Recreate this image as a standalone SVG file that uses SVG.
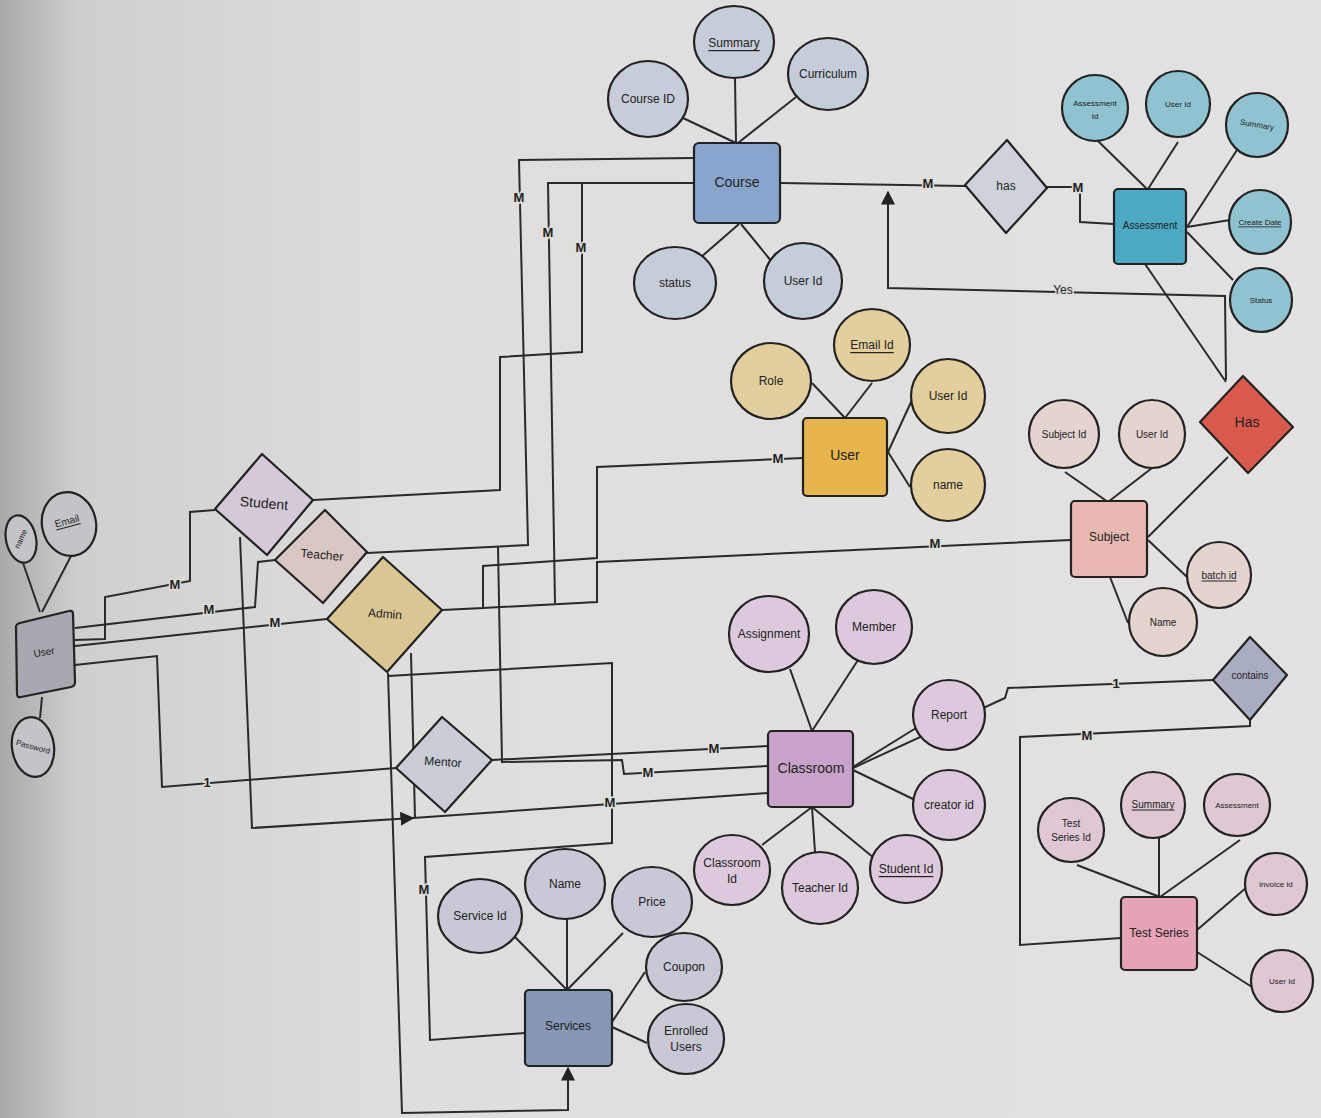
<svg xmlns="http://www.w3.org/2000/svg" width="1321" height="1118" viewBox="0 0 1321 1118">
<defs>
<linearGradient id="bg" x1="0" y1="0" x2="1" y2="0">
<stop offset="0" stop-color="#a9a9a9"/>
<stop offset="0.06" stop-color="#cfcfcf"/>
<stop offset="0.3" stop-color="#dededc"/>
<stop offset="1" stop-color="#e2e2e0"/>
</linearGradient>
<marker id="arr" viewBox="0 0 10 10" refX="9" refY="5" markerWidth="7" markerHeight="7" orient="auto-start-reverse">
<path d="M0,0 L10,5 L0,10 Z" fill="#222"/>
</marker>
<style>
.e{stroke:#222;stroke-width:2.2}
.a{stroke:#222;stroke-width:2.2}
.l{fill:none;stroke:#2a2a2a;stroke-width:2}
.t{font-family:"Liberation Sans",Arial,sans-serif;font-size:12px;fill:#222;text-anchor:middle;dominant-baseline:central}
.s{font-size:10px}
.xs{font-size:8px}
.big{font-size:14px}
.m{font-family:"Liberation Sans",Arial,sans-serif;font-size:13px;font-weight:bold;fill:#222;text-anchor:middle;dominant-baseline:central;stroke:#dededc;stroke-width:3;paint-order:stroke}
.u{text-decoration:underline}
.crs{fill:#c6ccd8}.ass{fill:#8fc3d0}.usr{fill:#e3cf9c}.sub{fill:#e4d4d0}.tst{fill:#dfc8d4}.cls{fill:#dccadc}.svc{fill:#c9c9d5}.lu{fill:#c4c4c8}
</style>
</defs>
<rect width="1321" height="1118" fill="url(#bg)"/>

<g id="connectors">
<!-- User (left) -> Student -->
<polyline class="l" points="75,640 105,639 105,597 190,581 190,512 215,510"/>
<!-- User -> Teacher -->
<polyline class="l" points="75,628 255,607 258,562 275,560"/>
<!-- User -> Admin -->
<polyline class="l" points="75,646 327,619"/>
<!-- User -> Mentor -->
<polyline class="l" points="75,665 157,656 162,787 396,768"/>
<!-- Student -> Course -->
<polyline class="l" points="313,500 500,490 500,357 582,352 582,183"/>
<!-- Teacher -> Course -->
<polyline class="l" points="694,158 519,160 528,545 367,553"/>
<!-- Course -> Admin -->
<polyline class="l" points="694,183 548,183 555,603"/>
<!-- Teacher -> Classroom -->
<polyline class="l" points="498,547 502,762 622,760 624,774 768,766"/>
<!-- Admin -> User (yellow) -->
<polyline class="l" points="442,610 483,608 483,566 597,558 597,467 803,458"/>
<!-- Admin -> Subject -->
<polyline class="l" points="483,608 597,602 597,562 1071,540"/>
<!-- Mentor -> Classroom -->
<polyline class="l" points="492,760 768,746"/>
<!-- Student -> Classroom -->
<polyline class="l" points="240,537 252,828 413,818" marker-end="url(#arr)"/>
<polyline class="l" points="413,818 768,793"/>
<!-- Admin vertical -->
<polyline class="l" points="411,653 415,818"/>
<!-- Admin -> Services (arrow) -->
<polyline class="l" points="388,673 402,1113 568,1110 568,1068" marker-end="url(#arr)"/>
<!-- Admin -> Services -->
<polyline class="l" points="388,676 612,663 612,843 425,857 430,1040 525,1033"/>
<!-- Classroom -> contains -->
<polyline class="l" points="853,768 1005,698 1008,688 1213,680"/>
<!-- contains -> Test Series -->
<polyline class="l" points="1250,720 1250,726 1020,737 1020,945 1121,938"/>
<!-- Course -> has -> Assessment -->
<polyline class="l" points="780,183 965,186"/>
<polyline class="l" points="1047,187 1080,187 1080,222 1114,224"/>
<!-- Yes -->
<polyline class="l" points="1226,380 1225,296 888,288 888,192" marker-end="url(#arr)"/>
<!-- Assessment -> Has -->
<line class="l" x1="1145" y1="264" x2="1226" y2="382"/>
<!-- Has -> Subject -->
<line class="l" x1="1228" y1="457" x2="1148" y2="537"/>

<!-- attribute lines -->
<g>
<line class="l" x1="23" y1="563" x2="40" y2="612"/>
<line class="l" x1="71" y1="556" x2="42" y2="612"/>
<line class="l" x1="40" y1="718" x2="42" y2="697"/>
<line class="l" x1="683" y1="118" x2="736" y2="143"/>
<line class="l" x1="735" y1="78" x2="736" y2="143"/>
<line class="l" x1="796" y1="97" x2="738" y2="143"/>
<line class="l" x1="700" y1="258" x2="739" y2="224"/>
<line class="l" x1="772" y1="262" x2="741" y2="224"/>
<line class="l" x1="1097" y1="140" x2="1147" y2="189"/>
<line class="l" x1="1178" y1="142" x2="1148" y2="189"/>
<line class="l" x1="1237" y1="150" x2="1187" y2="227"/>
<line class="l" x1="1230" y1="220" x2="1187" y2="227"/>
<line class="l" x1="1233" y1="280" x2="1187" y2="232"/>
<line class="l" x1="812" y1="383" x2="845" y2="418"/>
<line class="l" x1="872" y1="383" x2="845" y2="418"/>
<line class="l" x1="912" y1="400" x2="888" y2="452"/>
<line class="l" x1="910" y1="487" x2="888" y2="452"/>
<line class="l" x1="1065" y1="472" x2="1108" y2="502"/>
<line class="l" x1="1152" y1="468" x2="1108" y2="502"/>
<line class="l" x1="1148" y1="540" x2="1187" y2="577"/>
<line class="l" x1="1110" y1="577" x2="1128" y2="623"/>
<line class="l" x1="1077" y1="865" x2="1160" y2="897"/>
<line class="l" x1="1159" y1="838" x2="1159" y2="897"/>
<line class="l" x1="1240" y1="840" x2="1160" y2="897"/>
<line class="l" x1="1247" y1="887" x2="1197" y2="930"/>
<line class="l" x1="1252" y1="987" x2="1197" y2="952"/>
<line class="l" x1="790" y1="669" x2="812" y2="731"/>
<line class="l" x1="858" y1="660" x2="812" y2="731"/>
<line class="l" x1="916" y1="728" x2="853" y2="767"/>
<line class="l" x1="915" y1="800" x2="853" y2="770"/>
<line class="l" x1="762" y1="845" x2="812" y2="807"/>
<line class="l" x1="815" y1="852" x2="812" y2="807"/>
<line class="l" x1="874" y1="858" x2="812" y2="807"/>
<line class="l" x1="515" y1="937" x2="567" y2="990"/>
<line class="l" x1="567" y1="919" x2="567" y2="990"/>
<line class="l" x1="623" y1="933" x2="567" y2="990"/>
<line class="l" x1="645" y1="972" x2="612" y2="1022"/>
<line class="l" x1="647" y1="1043" x2="612" y2="1027"/>
</g>

<!-- cardinality labels -->
<text class="m" x="175" y="584">M</text>
<text class="m" x="209" y="609">M</text>
<text class="m" x="275" y="622">M</text>
<text class="m" x="207" y="782">1</text>
<text class="m" x="519" y="197">M</text>
<text class="m" x="548" y="232">M</text>
<text class="m" x="581" y="247">M</text>
<text class="m" x="778" y="458">M</text>
<text class="m" x="935" y="543">M</text>
<text class="m" x="714" y="748">M</text>
<text class="m" x="648" y="772">M</text>
<text class="m" x="610" y="802">M</text>
<text class="m" x="424" y="889">M</text>
<text class="m" x="928" y="183">M</text>
<text class="m" x="1078" y="187">M</text>
<text class="m" x="1116" y="683">1</text>
<text class="m" x="1087" y="735">M</text>
<text class="m" x="1063" y="290" style="font-size:12px;font-weight:normal">Yes</text>
</g>

<!-- User (left) -->
<g id="user-left">
<path d="M20,623 L69,611 Q73,610 73,614 L75,682 Q75,686 71,687 L21,697 Q17,698 17,694 L16,627 Q16,624 20,623 Z" fill="#a8a8b0" class="e"/>
<text class="t s" x="44" y="652" transform="rotate(-10 44 652)">User</text>
</g>
<g id="attr-user-name"><ellipse class="e lu" cx="21" cy="539" rx="15" ry="24" transform="rotate(-12 21 539)"/><text class="t xs" x="21" y="539" transform="rotate(-65 21 539)">name</text></g>
<g id="attr-user-email"><ellipse class="e lu" cx="69" cy="524" rx="27" ry="32" transform="rotate(-12 69 524)"/><text class="t s u" x="67" y="521" transform="rotate(-15 67 521)">Email</text></g>
<g id="attr-user-password"><ellipse class="e lu" cx="33" cy="747" rx="21" ry="30" transform="rotate(-8 33 747)"/><text class="t xs" x="33" y="747" transform="rotate(15 33 747)">Password</text></g>

<!-- Relationships -->
<g id="rel-student"><polygon class="e" points="262,454 313,500 267,555 215,509" fill="#d4c9d6" stroke-linejoin="round"/><text class="t big" x="264" y="503" transform="rotate(5 264 503)">Student</text></g>
<g id="rel-teacher"><polygon class="e" points="325,510 367,552 323,603 275,560" fill="#d8c7c3" stroke-linejoin="round"/><text class="t" x="322" y="555" transform="rotate(5 322 555)">Teacher</text></g>
<g id="rel-admin"><polygon class="e" points="383,557 442,610 387,672 327,619" fill="#d9c690" stroke-linejoin="round"/><text class="t" x="385" y="614" transform="rotate(4 385 614)">Admin</text></g>
<g id="rel-mentor"><polygon class="e" points="442,717 492,760 445,812 396,768" fill="#c9cdd6" stroke-linejoin="round"/><text class="t" x="443" y="762" transform="rotate(4 443 762)">Mentor</text></g>
<g id="rel-has"><polygon class="e" points="1007,140 1047,188 1006,233 965,185" fill="#cfd2da" stroke-linejoin="round"/><text class="t" x="1006" y="186">has</text></g>
<g id="rel-has2"><polygon class="e" points="1243,376 1293,427 1248,473 1200,422" fill="#d95a4b" stroke-linejoin="round"/><text class="t big" x="1247" y="422">Has</text></g>
<g id="rel-contains"><polygon class="e" points="1250,637 1287,675 1250,720 1213,680" fill="#a9adc2" stroke-linejoin="round"/><text class="t s" x="1250" y="675">contains</text></g>

<!-- Course -->
<g id="course"><rect class="e" x="694" y="143" width="86" height="80" rx="5" fill="#8aa5cc"/><text class="t big" x="737" y="182">Course</text></g>
<g id="course-summary"><ellipse class="e crs" cx="734" cy="42" rx="40" ry="36"/><text class="t u" x="734" y="43">Summary</text></g>
<g id="course-curriculum"><ellipse class="e crs" cx="828" cy="74" rx="40" ry="36"/><text class="t" x="828" y="74">Curriculum</text></g>
<g id="course-id"><ellipse class="e crs" cx="648" cy="99" rx="40" ry="38"/><text class="t" x="648" y="99">Course ID</text></g>
<g id="course-status"><ellipse class="e crs" cx="675" cy="283" rx="41" ry="36"/><text class="t" x="675" y="283">status</text></g>
<g id="course-userid"><ellipse class="e crs" cx="803" cy="281" rx="39" ry="38"/><text class="t" x="803" y="281">User Id</text></g>

<!-- Assessment -->
<g id="assessment"><rect class="e" x="1114" y="189" width="72" height="75" rx="4" fill="#4ba9c3"/><text class="t s" x="1150" y="225">Assessment</text></g>
<g id="asmt-id"><ellipse class="e ass" cx="1095" cy="108" rx="33" ry="33"/><text class="t xs" x="1095" y="103">Assessment</text><text class="t xs" x="1095" y="116">Id</text></g>
<g id="asmt-userid"><ellipse class="e ass" cx="1178" cy="104" rx="32" ry="33"/><text class="t xs" x="1178" y="104">User Id</text></g>
<g id="asmt-summary"><ellipse class="e ass" cx="1257" cy="125" rx="31" ry="32"/><text class="t xs" x="1257" y="125" transform="rotate(10 1257 125)">Summary</text></g>
<g id="asmt-createdate"><ellipse class="e ass" cx="1260" cy="222" rx="31" ry="32"/><text class="t xs u" x="1260" y="222">Create Date</text></g>
<g id="asmt-status"><ellipse class="e ass" cx="1261" cy="300" rx="31" ry="32"/><text class="t xs" x="1261" y="300">Status</text></g>

<!-- User (yellow) -->
<g id="user"><rect class="e" x="803" y="418" width="84" height="78" rx="4" fill="#e6b54c"/><text class="t big" x="845" y="455">User</text></g>
<g id="user-role"><ellipse class="e usr" cx="771" cy="381" rx="40" ry="38"/><text class="t" x="771" y="381">Role</text></g>
<g id="user-emailid"><ellipse class="e usr" cx="872" cy="345" rx="38" ry="36"/><text class="t u" x="872" y="345">Email Id</text></g>
<g id="user-userid"><ellipse class="e usr" cx="948" cy="396" rx="37" ry="37"/><text class="t" x="948" y="396">User Id</text></g>
<g id="user-name"><ellipse class="e usr" cx="948" cy="485" rx="37" ry="36"/><text class="t" x="948" y="485">name</text></g>

<!-- Subject -->
<g id="subject"><rect class="e" x="1071" y="501" width="76" height="76" rx="4" fill="#e8b9b1"/><text class="t" x="1109" y="537">Subject</text></g>
<g id="subject-id"><ellipse class="e sub" cx="1064" cy="434" rx="35" ry="34"/><text class="t s" x="1064" y="434">Subject Id</text></g>
<g id="subject-userid"><ellipse class="e sub" cx="1152" cy="434" rx="33" ry="34"/><text class="t s" x="1152" y="434">User Id</text></g>
<g id="subject-batchid"><ellipse class="e sub" cx="1219" cy="575" rx="32" ry="33"/><text class="t s u" x="1219" y="575">batch id</text></g>
<g id="subject-name"><ellipse class="e sub" cx="1163" cy="622" rx="34" ry="34"/><text class="t s" x="1163" y="622">Name</text></g>

<!-- Classroom -->
<g id="classroom"><rect class="e" x="768" y="731" width="85" height="76" rx="4" fill="#c8a2c8"/><text class="t big" x="811" y="768">Classroom</text></g>
<g id="cls-assignment"><ellipse class="e cls" cx="769" cy="634" rx="40" ry="38"/><text class="t" x="769" y="634">Assignment</text></g>
<g id="cls-member"><ellipse class="e cls" cx="874" cy="627" rx="38" ry="37"/><text class="t" x="874" y="627">Member</text></g>
<g id="cls-report"><ellipse class="e cls" cx="949" cy="715" rx="36" ry="35"/><text class="t" x="949" y="715">Report</text></g>
<g id="cls-creatorid"><ellipse class="e cls" cx="949" cy="805" rx="36" ry="35"/><text class="t" x="949" y="805">creator id</text></g>
<g id="cls-studentid"><ellipse class="e cls" cx="906" cy="869" rx="36" ry="34"/><text class="t u" x="906" y="869">Student Id</text></g>
<g id="cls-teacherid"><ellipse class="e cls" cx="820" cy="888" rx="38" ry="36"/><text class="t" x="820" y="888">Teacher Id</text></g>
<g id="cls-classroomid"><ellipse class="e cls" cx="732" cy="870" rx="38" ry="35"/><text class="t" x="732" y="863">Classroom</text><text class="t" x="732" y="879">Id</text></g>

<!-- Services -->
<g id="services"><rect class="e" x="525" y="990" width="87" height="76" rx="4" fill="#8797b6"/><text class="t" x="568" y="1026">Services</text></g>
<g id="svc-id"><ellipse class="e svc" cx="480" cy="916" rx="42" ry="37"/><text class="t" x="480" y="916">Service Id</text></g>
<g id="svc-name"><ellipse class="e svc" cx="565" cy="884" rx="40" ry="35"/><text class="t" x="565" y="884">Name</text></g>
<g id="svc-price"><ellipse class="e svc" cx="652" cy="902" rx="40" ry="35"/><text class="t" x="652" y="902">Price</text></g>
<g id="svc-coupon"><ellipse class="e svc" cx="684" cy="967" rx="38" ry="34"/><text class="t" x="684" y="967">Coupon</text></g>
<g id="svc-enrolled"><ellipse class="e svc" cx="686" cy="1039" rx="38" ry="35"/><text class="t" x="686" y="1031">Enrolled</text><text class="t" x="686" y="1047">Users</text></g>

<!-- Test Series -->
<g id="testseries"><rect class="e" x="1121" y="897" width="76" height="73" rx="4" fill="#e6a5b7"/><text class="t" x="1159" y="933">Test Series</text></g>
<g id="ts-id"><ellipse class="e tst" cx="1071" cy="830" rx="33" ry="32"/><text class="t s" x="1071" y="823">Test</text><text class="t s" x="1071" y="837">Series Id</text></g>
<g id="ts-summary"><ellipse class="e tst" cx="1153" cy="805" rx="32" ry="33"/><text class="t s u" x="1153" y="804">Summary</text></g>
<g id="ts-assessment"><ellipse class="e tst" cx="1237" cy="805" rx="33" ry="31"/><text class="t xs" x="1237" y="805">Assessment</text></g>
<g id="ts-invoiceid"><ellipse class="e tst" cx="1276" cy="884" rx="31" ry="31"/><text class="t xs" x="1276" y="884">invoice id</text></g>
<g id="ts-userid"><ellipse class="e tst" cx="1282" cy="981" rx="31" ry="31"/><text class="t xs" x="1282" y="981">User Id</text></g>
</svg>
